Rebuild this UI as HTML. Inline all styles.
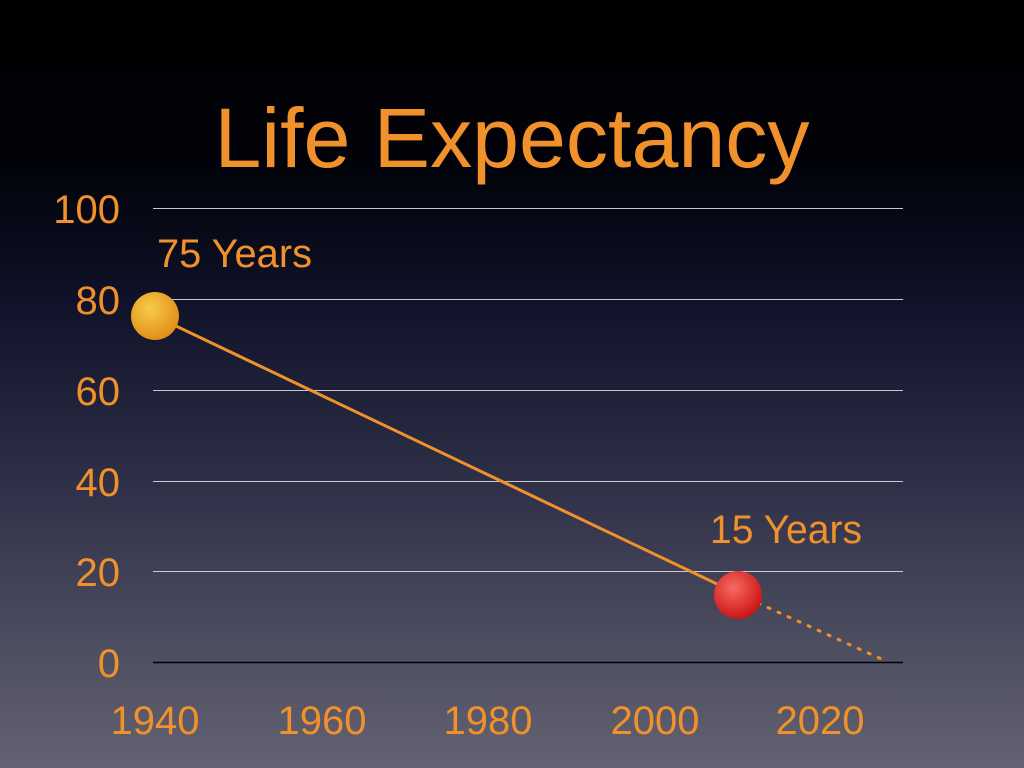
<!DOCTYPE html>
<html><head><meta charset="utf-8"><style>
html,body{margin:0;padding:0;width:1024px;height:768px;overflow:hidden}
body{background:linear-gradient(180deg,#000 0%,#02030a 22%,#10132a 40%,#2a2c44 60%,#48485c 80%,#626272 100%);font-family:"Liberation Sans",sans-serif}
</style></head><body>
<svg width="1024" height="768" viewBox="0 0 1024 768" xmlns="http://www.w3.org/2000/svg" style="display:block">
<defs>
<radialGradient id="gy" cx="0.4" cy="0.35" r="0.7"><stop offset="0" stop-color="#f8cc4a"/><stop offset="1" stop-color="#e08a16"/></radialGradient>
<radialGradient id="gr" cx="0.4" cy="0.35" r="0.7"><stop offset="0" stop-color="#f86a60"/><stop offset="1" stop-color="#c81010"/></radialGradient>
</defs>
<g fill="#f0912c" font-family="Liberation Sans, sans-serif">
<text x="512" y="167" font-size="84" text-anchor="middle" textLength="595" lengthAdjust="spacingAndGlyphs">Life Expectancy</text>
<g font-size="40" text-anchor="end">
<text x="120" y="223">100</text><text x="120" y="314">80</text><text x="120" y="405">60</text><text x="120" y="496">40</text><text x="120" y="586">20</text><text x="120" y="677">0</text>
</g>
<g font-size="40" text-anchor="middle">
<text x="155" y="734">1940</text><text x="322" y="734">1960</text><text x="488" y="734">1980</text><text x="655" y="734">2000</text><text x="820" y="734">2020</text>
</g>
<text x="157" y="267" font-size="40" textLength="155" lengthAdjust="spacingAndGlyphs">75 Years</text>
<text x="710" y="543" font-size="40" textLength="152" lengthAdjust="spacingAndGlyphs">15 Years</text>
</g>
<g stroke="#c8c8d0" stroke-width="1">
<line x1="153" y1="208.5" x2="903" y2="208.5"/><line x1="153" y1="299.5" x2="903" y2="299.5"/><line x1="153" y1="390.5" x2="903" y2="390.5"/><line x1="153" y1="481.5" x2="903" y2="481.5"/><line x1="153" y1="571.5" x2="903" y2="571.5"/>
</g>
<line x1="153" y1="662.5" x2="903" y2="662.5" stroke="#000" stroke-width="1.5"/>
<line x1="155" y1="316" x2="738" y2="594" stroke="#f0912c" stroke-width="3"/>
<line x1="738" y1="594" x2="888" y2="662" stroke="#f0912c" stroke-width="3" stroke-dasharray="2,9" stroke-linecap="round"/>
<circle cx="155" cy="316" r="24" fill="url(#gy)"/>
<circle cx="738" cy="595" r="24" fill="url(#gr)"/>
</svg>
</body></html>
